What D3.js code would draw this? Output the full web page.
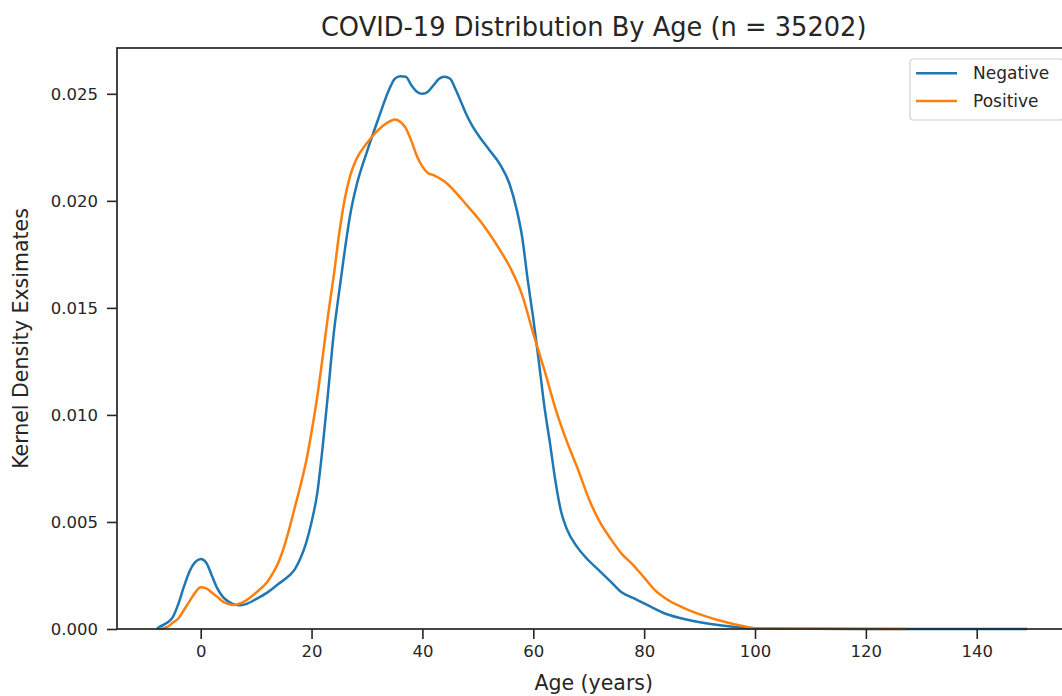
<!DOCTYPE html>
<html>
<head>
<meta charset="utf-8">
<script src="https://cdn.jsdelivr.net/npm/d3@7"></script>
<style>
  body { margin: 0; background: #fff; }
  svg { display: block; font-family: "DejaVu Sans", sans-serif; }
</style>
</head>
<body>
<svg class="vis" width="1062" height="696"></svg>
<script>

// values (age in years, kernel density)
const negAge = [-7.9, -7.4, -6, -5, -4, -3, -2, -1, 0, 1, 2, 3, 4, 5, 6, 7, 8, 10, 12, 14, 16, 17, 18, 19, 20, 21, 22, 23, 24, 25, 26, 27, 28, 30, 32, 34, 35, 36, 37, 38, 39, 40, 41, 42, 43, 44, 45, 46, 47, 48, 49, 50, 52, 54, 55.7, 57, 58, 59, 60, 61, 62, 63, 64, 65, 66, 68, 70, 72, 74, 76, 78, 80, 84, 88, 92, 96, 100, 110, 120, 149.1];
const negDensity = [0, 0.0001, 0.0003, 0.00057, 0.0012, 0.002, 0.0027, 0.00312, 0.00327, 0.0031, 0.0025, 0.0019, 0.0015, 0.00128, 0.00115, 0.00111, 0.00115, 0.0014, 0.0017, 0.0021, 0.0025, 0.0028, 0.0033, 0.004, 0.005, 0.0063, 0.0085, 0.0111, 0.0138, 0.0158, 0.0177, 0.0194, 0.0206, 0.0223, 0.0238, 0.0252, 0.0257, 0.02582, 0.0258, 0.0254, 0.0251, 0.025, 0.0251, 0.0254, 0.0257, 0.0258, 0.0257, 0.0252, 0.0246, 0.024, 0.0235, 0.0231, 0.0224, 0.0217, 0.0208, 0.0196, 0.0183, 0.0163, 0.0145, 0.0125, 0.0104, 0.0087, 0.0069, 0.0055, 0.0047, 0.0038, 0.0032, 0.0027, 0.0022, 0.0017, 0.00145, 0.0012, 0.0007, 0.00042, 0.00023, 0.0001, 0.00003, 0.00001, 0, 0];

const posAge = [-7.5, -6, -5, -4, -3, -2, -1, 0, 1, 2, 3, 4, 5, 6, 7, 8, 10, 12, 13, 14, 15, 16, 17, 18, 19, 20, 21, 22, 23, 24, 25, 26, 27, 28, 30, 32, 34, 35, 36, 37, 38, 39, 40, 41, 42, 44, 46, 48, 50, 52, 54, 56, 58, 60, 62, 64, 66, 68, 70, 72, 74, 76, 78, 80, 82, 84, 87, 91, 95, 98, 100, 110, 127.2];
const posDensity = [0, 0.0001, 0.0003, 0.0005, 0.0009, 0.0013, 0.0017, 0.00195, 0.0019, 0.0017, 0.0015, 0.00128, 0.00117, 0.00112, 0.00118, 0.0013, 0.0017, 0.0022, 0.0026, 0.0031, 0.0038, 0.0047, 0.0057, 0.0067, 0.0078, 0.0092, 0.0108, 0.0127, 0.0147, 0.0165, 0.0185, 0.0201, 0.0212, 0.0219, 0.0227, 0.0233, 0.0237, 0.0238, 0.0237, 0.0234, 0.0228, 0.0221, 0.0216, 0.0213, 0.0212, 0.0209, 0.0204, 0.0198, 0.0192, 0.0185, 0.0177, 0.0168, 0.0156, 0.0138, 0.0121, 0.0103, 0.0088, 0.0075, 0.0061, 0.005, 0.0042, 0.0035, 0.003, 0.0024, 0.0018, 0.0014, 0.001, 0.0006, 0.0003, 0.00013, 0.00004, 0.00001, 0];

const seriesNames = ["Negative", "Positive"];
const seriesColors = ["#1f77b4", "#ff7f0e"];

const xTicks = [0, 20, 40, 60, 80, 100, 120, 140];
const yTicks = [0, 0.005, 0.010, 0.015, 0.020, 0.025];

const titleText = "COVID-19 Distribution By Age (n = 35202)";
const xLabel = "Age (years)";
const yLabel = "Kernel Density Exsimates";

const v = {

    box : { left : 117, right : 1070.4, top : 48, bottom : 629 },

    x : null,
    y : null,

    init : () => {
        v.x = d3.scaleLinear().domain([-15.1, 156.9]).range([v.box.left, v.box.right]);
        v.y = d3.scaleLinear().domain([0, 0.02714]).range([v.box.bottom, v.box.top]);
    },

    draw : () => {

        const svg = d3.select("svg.vis");
        const ink = "#262626";

        svg.append("rect").attr("width", 1062).attr("height", 696).attr("fill", "#fff");

        // curves
        const series = [
            negAge.map((a, i) => [a, negDensity[i]]),
            posAge.map((a, i) => [a, posDensity[i]])
        ];

        const line = d3.line()
            .x(d => v.x(d[0]))
            .y(d => v.y(d[1]))
            .curve(d3.curveMonotoneX);

        svg.append("g")
          .selectAll("path")
          .data(series)
          .join("path")
            .attr("d", line)
            .attr("fill", "none")
            .attr("stroke", (d, i) => seriesColors[i])
            .attr("stroke-width", 2.5)
            .attr("stroke-linejoin", "round");

        // axes
        const xAxis = d3.axisBottom(v.x)
            .tickValues(xTicks)
            .tickSize(10)
            .tickPadding(6)
            .tickFormat(d3.format("d"));

        const yAxis = d3.axisLeft(v.y)
            .tickValues(yTicks)
            .tickSize(10)
            .tickPadding(9)
            .tickFormat(d3.format(".3f"));

        const gx = svg.append("g")
            .attr("transform", `translate(0,${v.box.bottom})`)
            .call(xAxis);

        const gy = svg.append("g")
            .attr("transform", `translate(${v.box.left},0)`)
            .call(yAxis);

        [gx, gy].forEach(g => {
            g.select(".domain").remove();
            g.selectAll(".tick line").attr("stroke", ink).attr("stroke-width", 1.6);
            g.selectAll(".tick text")
              .attr("fill", ink)
              .attr("font-size", 16.5)
              .attr("font-family", "DejaVu Sans");
        });

        // spines (left, bottom, top; right one falls outside the picture)
        svg.append("rect")
            .attr("x", v.box.left)
            .attr("y", v.box.top)
            .attr("width", v.box.right - v.box.left)
            .attr("height", v.box.bottom - v.box.top)
            .attr("fill", "none")
            .attr("stroke", ink)
            .attr("stroke-width", 1.7);

        // title and labels
        svg.append("text")
            .attr("x", (v.box.left + v.box.right) / 2)
            .attr("y", 36)
            .attr("text-anchor", "middle")
            .attr("font-size", 25.7)
            .attr("fill", ink)
            .text(titleText);

        svg.append("text")
            .attr("x", (v.box.left + v.box.right) / 2)
            .attr("y", 690)
            .attr("text-anchor", "middle")
            .attr("font-size", 20.5)
            .attr("fill", ink)
            .text(xLabel);

        svg.append("text")
            .attr("transform", `translate(28,${(v.box.top + v.box.bottom) / 2}) rotate(-90)`)
            .attr("text-anchor", "middle")
            .attr("font-size", 20.5)
            .attr("fill", ink)
            .text(yLabel);

        // legend
        const lg = svg.append("g").attr("transform", "translate(910,59)");

        lg.append("rect")
            .attr("width", 153)
            .attr("height", 61)
            .attr("rx", 3)
            .attr("fill", "#fff")
            .attr("fill-opacity", 0.8)
            .attr("stroke", "#d0d0d0")
            .attr("stroke-width", 1.2);

        const item = lg.selectAll("g.item")
          .data(seriesNames)
          .join("g")
            .attr("class", "item")
            .attr("transform", (d, i) => `translate(0,${14.3 + i * 27.7})`);

        item.append("line")
            .attr("x1", 6).attr("x2", 47)
            .attr("stroke", (d, i) => seriesColors[i])
            .attr("stroke-width", 2.5);

        item.append("text")
            .attr("x", 63)
            .attr("dy", "0.35em")
            .attr("font-size", 17)
            .attr("fill", ink)
            .text(d => d);
    }
};

v.init();
v.draw();
</script>
</body>
</html>
